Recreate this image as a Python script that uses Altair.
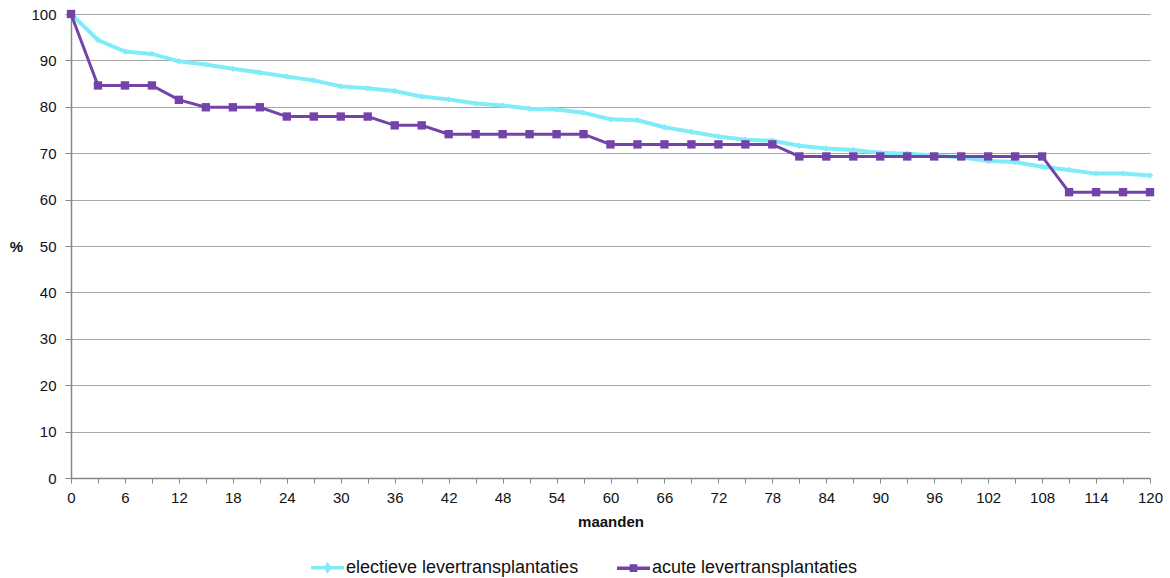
import altair as alt
import pandas as pd

# Survival after liver transplantation (%), per 3 months of follow-up
months = list(range(0, 121, 3))
elective = [100, 94.4, 91.9, 91.4, 89.8, 89.1, 88.2, 87.4, 86.5, 85.7, 84.4,
            84.0, 83.4, 82.2, 81.6, 80.7, 80.3, 79.6, 79.4, 78.7, 77.3, 77.1,
            75.6, 74.6, 73.6, 72.9, 72.7, 71.6, 71.0, 70.7, 70.1, 69.9, 69.5,
            69.1, 68.3, 68.1, 67.1, 66.4, 65.6, 65.6, 65.2]
acute = [100, 84.6, 84.6, 84.6, 81.5, 79.9, 79.9, 79.9, 77.9, 77.9, 77.9,
         77.9, 76.0, 76.0, 74.1, 74.1, 74.1, 74.1, 74.1, 74.1, 71.9, 71.9,
         71.9, 71.9, 71.9, 71.9, 71.9, 69.3, 69.3, 69.3, 69.3, 69.3, 69.3,
         69.3, 69.3, 69.3, 69.3, 61.6, 61.6, 61.6, 61.6]

series_names = ["electieve levertransplantaties", "acute levertransplantaties"]
series_colors = ["#7fecf8", "#7443a9"]

df = pd.concat([
    pd.DataFrame({"maanden": months, "pct": elective, "serie": series_names[0]}),
    pd.DataFrame({"maanden": months, "pct": acute, "serie": series_names[1]}),
])

FONT = "Liberation Sans"

x = alt.X("maanden:Q",
          scale=alt.Scale(domain=[0, 120], nice=False, zero=False),
          axis=alt.Axis(values=months, labelExpr="datum.value % 6 == 0 ? datum.label : ''",
                        grid=False, title="maanden", titleFontWeight="bold",
                        titleFontSize=15, titlePadding=9, labelPadding=7,
                        tickSize=5, labelFontSize=15, labelFlush=False))
y = alt.Y("pct:Q",
          scale=alt.Scale(domain=[0, 100], nice=False),
          axis=alt.Axis(values=list(range(0, 101, 10)), grid=True,
                        title="%", titleAngle=0, titleFontWeight="bold",
                        titleFontSize=15, titleAlign="center", titleBaseline="middle",
                        titleX=-55, titleY=232, tickSize=6, labelPadding=9,
                        labelFontSize=15))

# legend symbols: a line stroke with the series marker in its middle
diamond_legend = "M-1,0H1M0,-0.17L0.12,0L0,0.17L-0.12,0Z"
square_legend = "M-1,0H1M-0.13,-0.13H0.13V0.13H-0.13Z"
symbol_expr = (f"datum.value === '{series_names[1]}' ? "
               f"'{square_legend}' : '{diamond_legend}'")

color = alt.Color(
    "serie:N",
    scale=alt.Scale(domain=series_names, range=series_colors),
    legend=alt.Legend(
        title=None, orient="none", direction="horizontal",
        legendX=238, legendY=535, padding=0, labelLimit=500,
        labelFontSize=18, labelFont=FONT, labelColor="#111",
        symbolSize=1089, symbolStrokeWidth=3.5, labelOffset=0, columnPadding=31,
        symbolType={"expr": symbol_expr}, symbolOpacity=1,
    ),
)

base = alt.Chart(df)

def series_layers(name, width, shape, size):
    sub = base.transform_filter(alt.datum.serie == name)
    line = sub.mark_line(strokeWidth=width).encode(x=x, y=y, color=color)
    pts = sub.mark_point(filled=True, shape=shape, size=size, opacity=1).encode(
        x=x, y=y, color=color)
    return [line, pts]

layers = series_layers(series_names[0], 4, "diamond", 40) + \
    series_layers(series_names[1], 3, "square", 70)

chart = alt.layer(*layers).properties(
    width=1079, height=464,
    autosize=alt.AutoSizeParams(type="none"),
    padding={"left": 71, "top": 14, "right": 20, "bottom": 100},
).configure_view(stroke=None).configure_axis(
    domainColor="#868686", domainWidth=1.5, tickColor="#868686",
    gridColor="#a6a6a6", gridWidth=1, labelColor="#111", titleColor="#111",
    labelFont=FONT, titleFont=FONT,
).configure_legend(labelFont=FONT)

chart.save("out.html", embed_options={"renderer": "svg", "actions": False})
